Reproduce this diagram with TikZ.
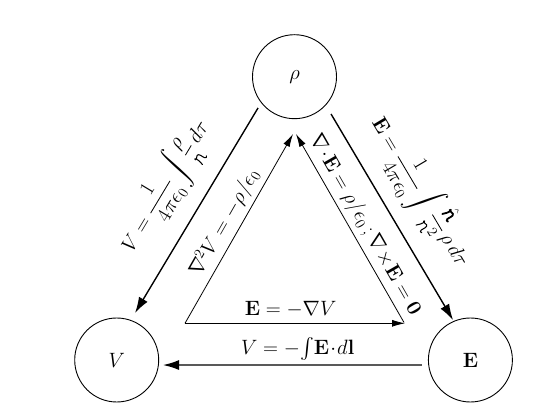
\documentclass[tikz,border=0pt]{standalone}
\usepackage{amsmath}
\usetikzlibrary{arrows.meta,calc}
\tikzset{scrglyph/.pic={
  \draw[arrows=-, line cap=round, line join=round]
    (0.03,0.0) .. controls (0.09,0.14) and (0.11,0.30) .. (0.11,0.38)
    .. controls (0.11,0.47) and (0.02,0.47) .. (0.05,0.40)
    .. controls (0.09,0.33) and (0.18,0.46) .. (0.28,0.44)
    .. controls (0.40,0.42) and (0.34,0.20) .. (0.36,0.08)
    .. controls (0.37,0.0) and (0.44,0.0) .. (0.48,0.05);}}
\newcommand{\scrr}{\mathord{\tikz[baseline=0pt,x=1em,y=1em,line width=0.05em]\pic{scrglyph};\kern0.03em}}
\newcommand{\bscrr}{\mathord{\tikz[baseline=0pt,x=1em,y=1em,line width=0.085em]\pic{scrglyph};\kern0.03em}}
\begin{document}
\begin{tikzpicture}[x=1pt,y=1pt,
  every node/.style={font=\fontsize{20}{24}\selectfont},
  station/.style={draw, circle, minimum size=84pt, inner sep=0pt, line width=0.9pt,
    font=\fontsize{22}{26}\selectfont},
  outer/.style={line width=1.4pt, -{Latex[length=16pt,width=10pt]}},
  inner/.style={line width=0.8pt, -{Latex[length=13pt,width=7pt]}},
  lab/.style={sloped, anchor=center, inner sep=0pt},
  biglab/.style={lab, font=\fontsize{21}{25}\selectfont}]
\useasboundingbox (0,0) rectangle (548,414);
\node[station] (rho) at (294.5,337.3) {$\rho$};
\node[station] (V) at (116.7,54) {$V$};
\node[station] (E) at (470.4,54) {$\mathbf{E}$};
\coordinate (iL) at (185,90.7);
\coordinate (iH) at (405,90.7);
\coordinate (iR) at (404,91.5);
\coordinate (aL) at (293,280);
\coordinate (aR) at (296,280);
% outer arrows
\draw[outer] ($(rho)+(220.6:48pt)$) -- node[biglab,pos=.48,yshift=38pt]
  {$V = \dfrac{1}{4\pi\epsilon_0}\displaystyle\int \dfrac{\rho}{\scrr}\,d\tau$}
  ($(V)+(68.7:50.4pt)$);
\draw[outer] ($(rho)+(-45.6:52.2pt)$) -- node[biglab,pos=.47,yshift=37pt]
  {$\mathbf{E} = \dfrac{1}{4\pi\epsilon_0}\displaystyle\int \dfrac{\hat{\bscrr}}{\scrr^2}\,\rho\,d\tau$}
  ($(E)+(113.5:43.6pt)$);
\draw[outer] ($(E)+(185.9:48.7pt)$) -- node[lab,pos=.48,yshift=16pt]
  {$V = -\!\int\!\mathbf{E}\!\cdot\! d\mathbf{l}$}
  ($(V)+(-6.2:46.6pt)$);
% inner triangle
\draw[inner] (iL) -- node[lab,pos=.49,yshift=15.7pt] {$\nabla^2 V = -\rho/\epsilon_0$} (aL);
\draw[inner] (iR) -- node[lab,pos=.48,yshift=14.6pt]
  {$\nabla\!\cdot\!\mathbf{E} = \rho/\epsilon_0\,;\nabla\!\times\!\mathbf{E} = \mathbf{0}$} (aR);
\draw[inner] (iL) -- node[lab,pos=.48,yshift=14pt] {$\mathbf{E} = -\nabla V$} (iH);
\end{tikzpicture}
\end{document}
